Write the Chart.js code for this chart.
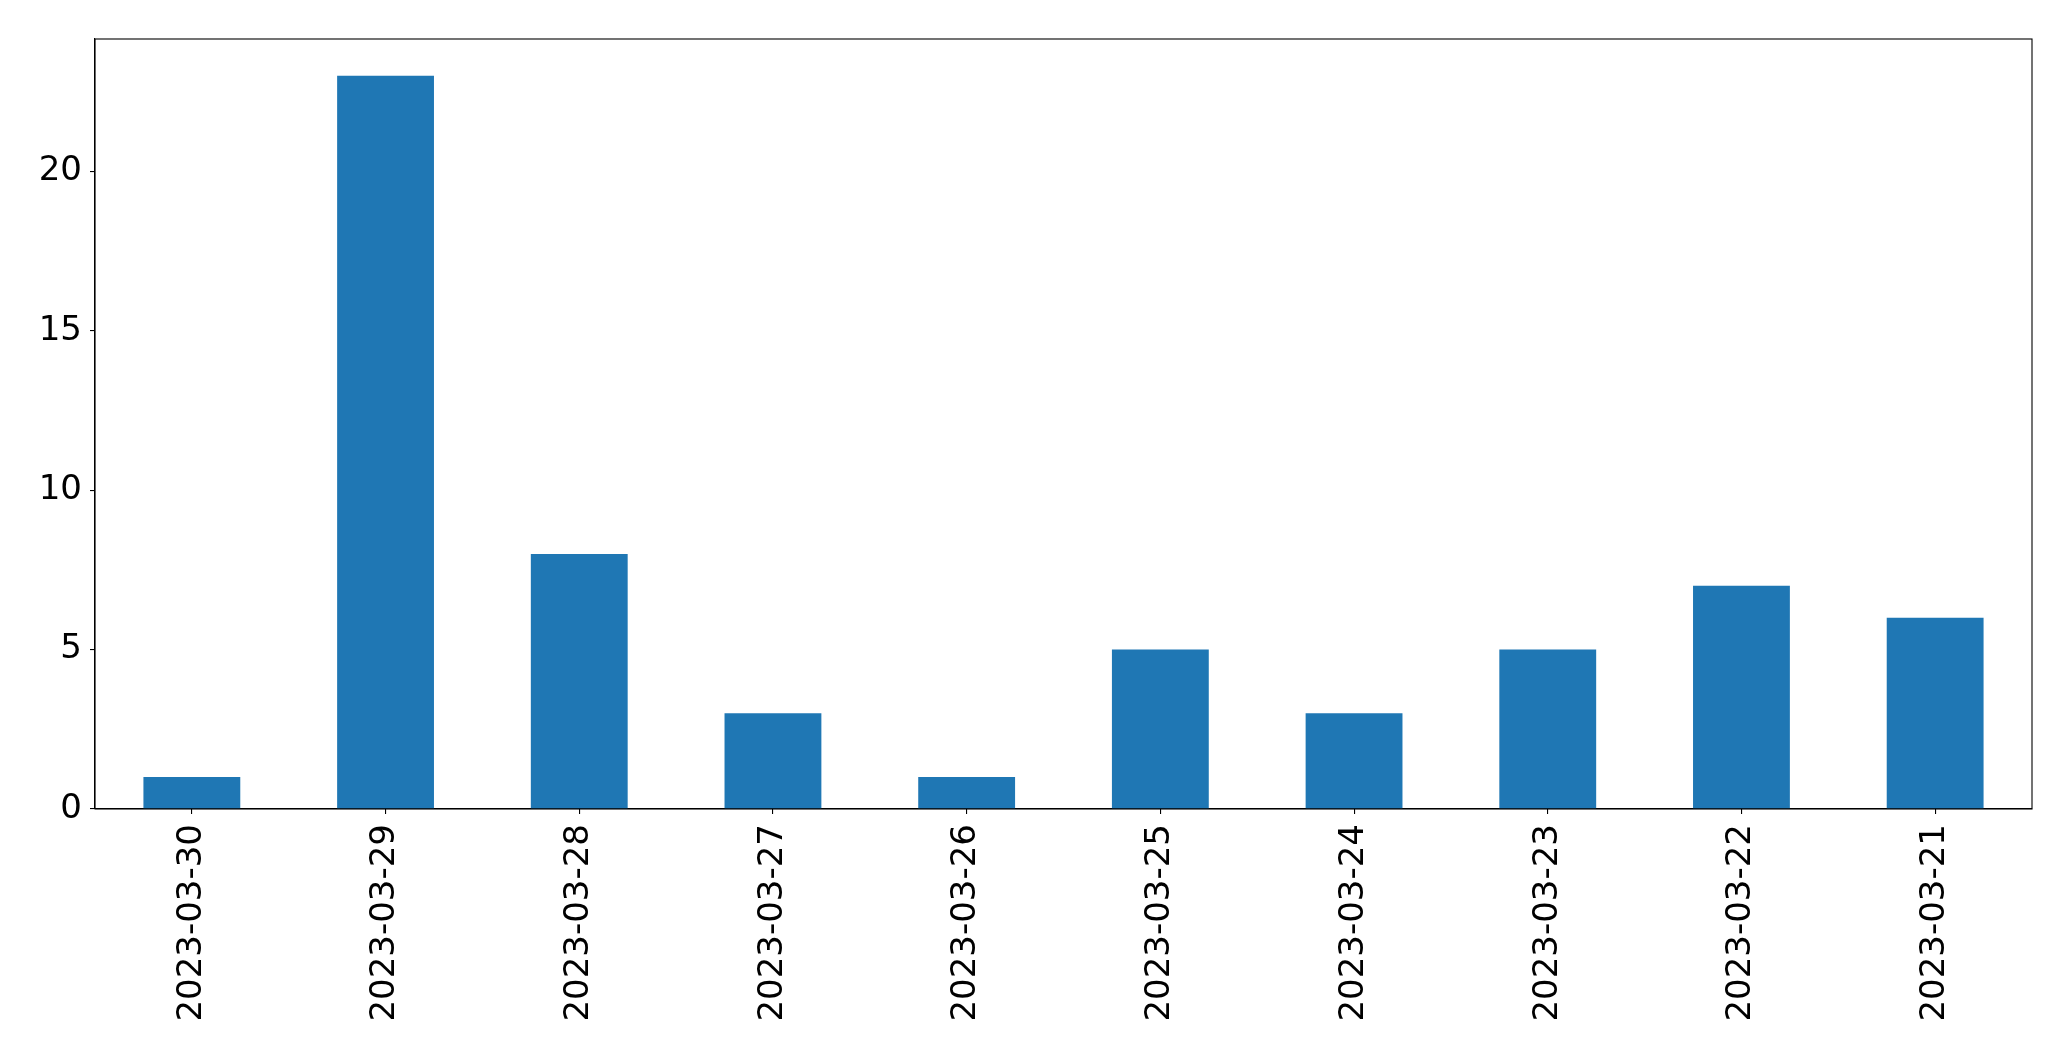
<!DOCTYPE html>
<html>
<head>
<meta charset="utf-8">
<script src="https://cdn.jsdelivr.net/npm/chart.js@4.4.0/dist/chart.umd.min.js"></script>
<style>
  html, body { margin: 0; padding: 0; background: #fff; }
  #wrap { width: 2071px; height: 1061px; }
</style>
</head>
<body>
<div id="wrap"><canvas id="chart"></canvas></div>
<script>
// datos
const dates = ['2023-03-30','2023-03-29','2023-03-28','2023-03-27','2023-03-26',
               '2023-03-25','2023-03-24','2023-03-23','2023-03-22','2023-03-21'];
const counts = [1, 23, 8, 3, 1, 5, 3, 5, 7, 6];
const yTicks = [0, 5, 10, 15, 20];

const BAR_BLUE = '#1f77b4';

// marco completo (spines de arriba y derecha)
const frame = {
  id: 'frame',
  afterDraw(chart) {
    const { ctx, chartArea: a } = chart;
    ctx.save();
    ctx.strokeStyle = '#000';
    ctx.lineWidth = 1.1;
    ctx.strokeRect(a.left, a.top, a.right - a.left, a.bottom - a.top);
    ctx.restore();
  }
};

new Chart(document.getElementById('chart'), {
  type: 'bar',
  data: {
    labels: dates,
    datasets: [{
      data: counts,
      backgroundColor: BAR_BLUE,
      borderWidth: 0,
      barPercentage: 0.5,
      categoryPercentage: 1.0
    }]
  },
  options: {
    responsive: true,
    maintainAspectRatio: false,
    animation: false,
    layout: { padding: { left: 0, top: 39, right: 39, bottom: 0 } },
    plugins: { legend: { display: false }, tooltip: { enabled: false } },
    scales: {
      x: {
        offset: true,
        grid: { display: true, drawOnChartArea: false, drawTicks: true, tickLength: 5, offset: false, color: '#000', lineWidth: 1.1 },
        border: { display: true, color: '#000', width: 1.1 },
        ticks: {
          color: '#000', font: { family: 'DejaVu Sans', size: 34 },
          minRotation: 90, maxRotation: 90, padding: 10, autoSkip: false
        },
        afterFit(scale) { scale.height = 252; }
      },
      y: {
        min: 0,
        max: Math.max(...counts) * 1.05,
        grid: { display: true, drawOnChartArea: false, drawTicks: true, tickLength: 5, color: '#000', lineWidth: 1.1 },
        border: { display: true, color: '#000', width: 1.1 },
        ticks: {
          color: '#000', font: { family: 'DejaVu Sans', size: 34 },
          stepSize: 5, includeBounds: false, padding: 8
        },
        afterBuildTicks(scale) { scale.ticks = yTicks.map(v => ({ value: v })); },
        afterFit(scale) { scale.width = 95; }
      }
    }
  },
  plugins: [frame]
});
</script>
</body>
</html>
